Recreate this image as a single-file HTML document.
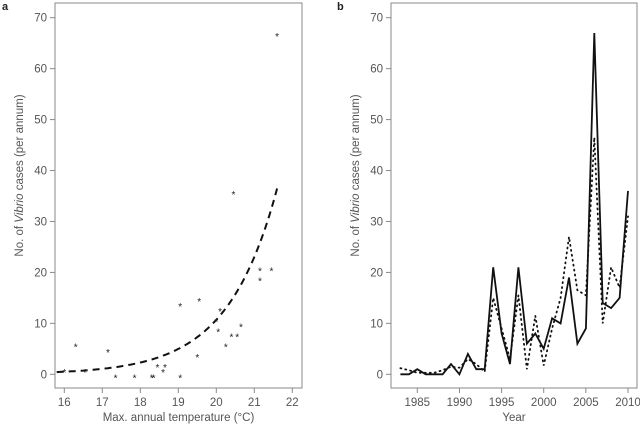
<!DOCTYPE html>
<html><head><meta charset="utf-8">
<style>
html,body{margin:0;padding:0;background:#fff;}
svg{display:block;font-family:"Liberation Sans",sans-serif;}
.tick{font-size:11.5px;fill:#555;}
.title{font-size:11.5px;fill:#555;}
</style></head>
<body>
<svg id="c" width="640" height="426" viewBox="0 0 640 426">
<text x="2" y="10" font-size="11" font-weight="bold" fill="#222">a</text>
<text x="337" y="10" font-size="11" font-weight="bold" fill="#222">b</text>
<g id="pa"></g>
<g id="pb"></g>
</svg>
<script>
// Panel a data
const tempX = [16.0,16.3,16.55,17.15,17.35,17.85,18.3,18.35,18.45,18.6,18.65,19.05,19.05,19.5,19.55,20.0,20.05,20.1,20.25,20.45,20.4,20.55,20.65,21.15,21.15,21.45,21.6];
const casesA = [1,6,1,5,0,0,0,0,2,1,2,14,0,4,15,11,9,13,6,36,8,8,10,21,19,21,67];
const fitA = 0.5, fitB = 0.766;
const xTicksA = [16,17,18,19,20,21,22];
const yTicks = [0,10,20,30,40,50,60,70];
// Panel b data
const years = [1983,1984,1985,1986,1987,1988,1989,1990,1991,1992,1993,1994,1995,1996,1997,1998,1999,2000,2001,2002,2003,2004,2005,2006,2007,2008,2009,2010];
const observed = [0,0,1,0,0,0,2,0,4,1,1,21,8,2,21,6,8,5,11,10,19,6,9,67,14,13,15,36];
const modelled = [1.2,0.8,0.3,0.3,0.3,0.8,1.5,1.3,3,2,0.5,15,9,3,15.5,1,11.5,1.7,9,15,27,16.5,15.5,46.5,10,21,17,31];
const xTicksB = [1985,1990,1995,2000,2005,2010];

const NS="http://www.w3.org/2000/svg";
function mk(tag,attrs,parent){const e=document.createElementNS(NS,tag);for(const k in attrs)e.setAttribute(k,attrs[k]);parent.appendChild(e);return e;}
const topY=3,botY=388;
const yS=v=>374.3-v*(374.3-17.7)/70;
const xA=v=>64.3+(v-16)*38;
const xB=v=>417.3+(v-1985)*(628-417.3)/25;

function frame(g,L,R,xt,xs,xTitle,nm){
  const r=mk('rect',{x:L,y:topY,width:R-L,height:botY-topY,fill:'none',stroke:'#888','stroke-width':1},g);
  
  
  yTicks.forEach(v=>{
    const y=yS(v);
    mk('line',{x1:L-5,x2:L,y1:y,y2:y,stroke:'#888'},g);
    const t=mk('text',{x:L-8,y:y+4,'text-anchor':'end',class:'tick'},g);t.textContent=v;
    
    
  });
  xt.forEach(v=>{
    const x=xs(v);
    mk('line',{x1:x,x2:x,y1:botY,y2:botY+5,stroke:'#888'},g);
    const t=mk('text',{x:x,y:botY+18,'text-anchor':'middle',class:'tick'},g);t.textContent=v;
    
    
  });
  const xt2=mk('text',{x:(L+R)/2,y:421,'text-anchor':'middle',class:'title'},g);xt2.textContent=xTitle;
  
  
  const yt=mk('text',{x:0,y:0,'text-anchor':'middle',class:'title',transform:`translate(${L-32},${(topY+botY)/2-20}) rotate(-90)`},g);
  
  
  yt.innerHTML='No. of <tspan font-style="italic">Vibrio</tspan> cases (per annum)';
}
const pa=document.getElementById('pa'),pb=document.getElementById('pb');
frame(pa,55,302,xTicksA,xA,'Max. annual temperature (°C)','panel-a');
frame(pb,391,637,xTicksB,xB,'Year','panel-b');

// fit curve
let d='';
for(let t=15.8;t<=21.6001;t+=0.05){const v=fitA*Math.exp(fitB*(t-16));d+=(d?'L':'M')+xA(t).toFixed(1)+','+yS(v).toFixed(1);}
const fc=mk('path',{d:d,fill:'none',stroke:'#111','stroke-width':2,'stroke-dasharray':'7,5'},pa);


tempX.forEach((t,i)=>{
  const s=mk('text',{x:xA(t),y:yS(casesA[i])+7,'text-anchor':'middle','font-size':'10px',fill:'#222'},pa);
  s.textContent='*';
  
  
});

function series(vals,attrs,nm){
  const dd=vals.map((v,i)=>(i?'L':'M')+xB(years[i]).toFixed(1)+','+yS(v).toFixed(1)).join('');
  const p=mk('path',Object.assign({d:dd,fill:'none'},attrs),pb);
  
  
}
series(modelled,{stroke:'#111','stroke-width':1.8,'stroke-dasharray':'1,4','stroke-linecap':'round'},'modelled-series-line');
series(observed,{stroke:'#111','stroke-width':1.8,'stroke-linejoin':'miter'},'observed-series-line');
</script>
</body></html>
